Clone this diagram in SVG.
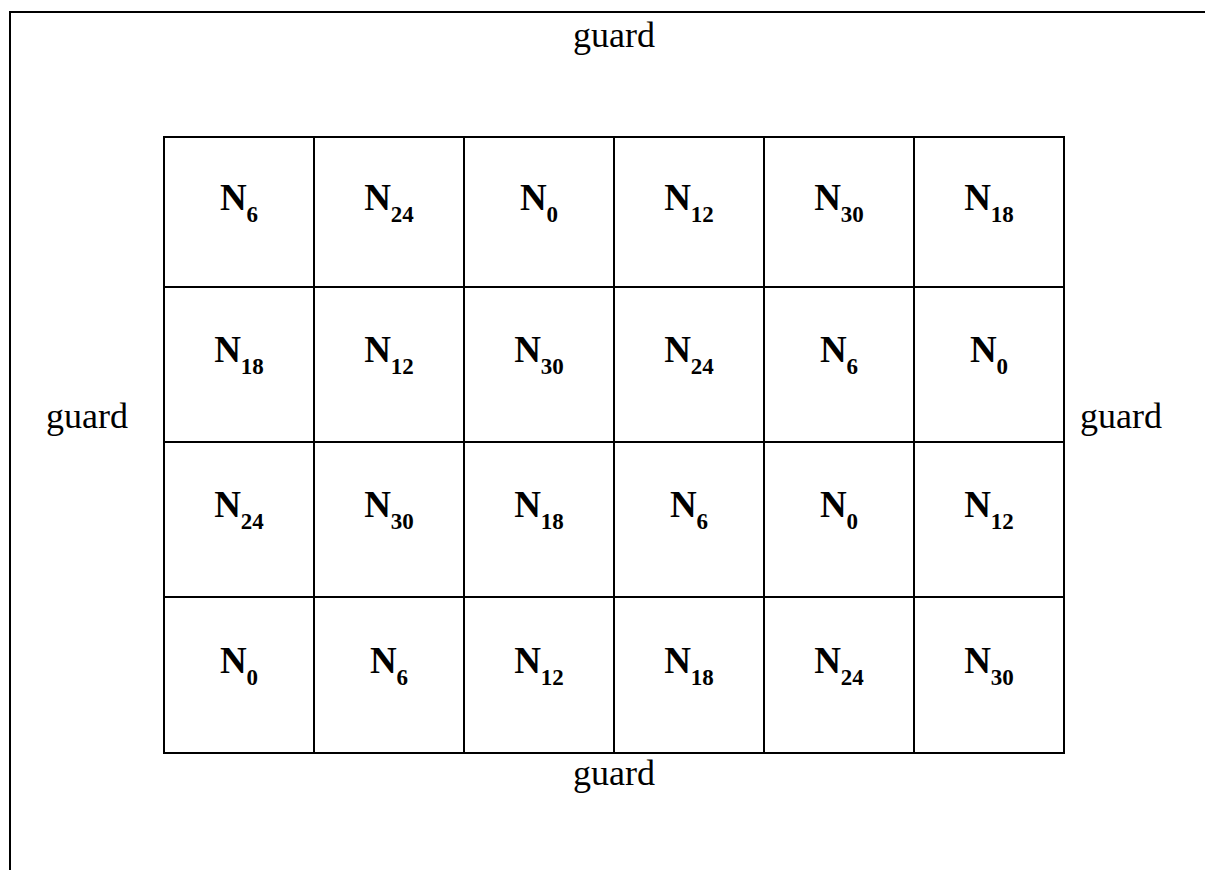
<svg xmlns="http://www.w3.org/2000/svg" width="1205" height="870" viewBox="0 0 1205 870">
<style>
.ln{stroke:#000;stroke-width:2;fill:none}
.g{font-family:"Liberation Serif",serif;font-size:36px;fill:#000;text-anchor:middle}
.n{font-family:"Liberation Serif",serif;font-weight:bold;font-size:37px;fill:#000;text-anchor:middle}
.s{font-size:23px}
</style>
<rect width="1205" height="870" fill="#fff"/>
<g id="frame">
<path class="ln" d="M10,870 V12 H1205"/>
</g>
<g id="grid">
<rect class="ln" x="164" y="137" width="900" height="616"/>
<path class="ln" d="M314,137V753M464,137V753M614,137V753M764,137V753M914,137V753M164,287H1064M164,442H1064M164,597H1064"/>
</g>
<g id="guards">
<text class="g" x="614" y="47">guard</text>
<text class="g" x="87" y="428">guard</text>
<text class="g" x="1121" y="428">guard</text>
<text class="g" x="614" y="785">guard</text>
</g>
<g id="row1">
<text class="n" x="239" y="210">N<tspan class="s" dy="12">6</tspan></text>
<text class="n" x="389" y="210">N<tspan class="s" dy="12">24</tspan></text>
<text class="n" x="539" y="210">N<tspan class="s" dy="12">0</tspan></text>
<text class="n" x="689" y="210">N<tspan class="s" dy="12">12</tspan></text>
<text class="n" x="839" y="210">N<tspan class="s" dy="12">30</tspan></text>
<text class="n" x="989" y="210">N<tspan class="s" dy="12">18</tspan></text>
</g>
<g id="row2">
<text class="n" x="239" y="362">N<tspan class="s" dy="12">18</tspan></text>
<text class="n" x="389" y="362">N<tspan class="s" dy="12">12</tspan></text>
<text class="n" x="539" y="362">N<tspan class="s" dy="12">30</tspan></text>
<text class="n" x="689" y="362">N<tspan class="s" dy="12">24</tspan></text>
<text class="n" x="839" y="362">N<tspan class="s" dy="12">6</tspan></text>
<text class="n" x="989" y="362">N<tspan class="s" dy="12">0</tspan></text>
</g>
<g id="row3">
<text class="n" x="239" y="517">N<tspan class="s" dy="12">24</tspan></text>
<text class="n" x="389" y="517">N<tspan class="s" dy="12">30</tspan></text>
<text class="n" x="539" y="517">N<tspan class="s" dy="12">18</tspan></text>
<text class="n" x="689" y="517">N<tspan class="s" dy="12">6</tspan></text>
<text class="n" x="839" y="517">N<tspan class="s" dy="12">0</tspan></text>
<text class="n" x="989" y="517">N<tspan class="s" dy="12">12</tspan></text>
</g>
<g id="row4">
<text class="n" x="239" y="673">N<tspan class="s" dy="12">0</tspan></text>
<text class="n" x="389" y="673">N<tspan class="s" dy="12">6</tspan></text>
<text class="n" x="539" y="673">N<tspan class="s" dy="12">12</tspan></text>
<text class="n" x="689" y="673">N<tspan class="s" dy="12">18</tspan></text>
<text class="n" x="839" y="673">N<tspan class="s" dy="12">24</tspan></text>
<text class="n" x="989" y="673">N<tspan class="s" dy="12">30</tspan></text>
</g>
</svg>
